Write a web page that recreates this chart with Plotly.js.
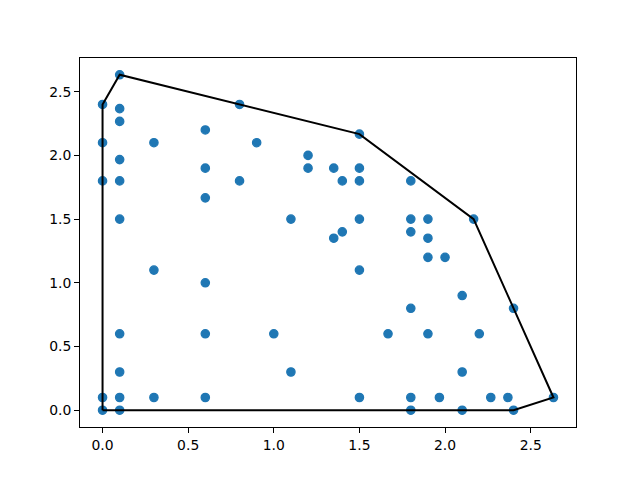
<!DOCTYPE html>
<html>
<head>
<meta charset="utf-8">
<script src="https://cdn.plot.ly/plotly-3.0.1.min.js"></script>
<style>
  html, body { margin: 0; padding: 0; background: #ffffff; }
  #chart { width: 640px; height: 480px; }
</style>
</head>
<body>
<div id="chart"></div>
<script>
// Scatter points
const pointsX = [
    0, 0, 0, 0, 0,
    0.1, 0.1, 0.1, 0.1, 0.1, 0.1, 0.1, 0.1, 0.1, 0.1,
    0.3, 0.3, 0.3,
    0.6, 0.6, 0.6, 0.6, 0.6, 0.6,
    0.8, 0.8, 0.9, 1.0, 1.1, 1.1, 1.2, 1.2,
    1.35, 1.35, 1.4, 1.4,
    1.5, 1.5, 1.5, 1.5, 1.5, 1.5,
    1.667,
    1.8, 1.8, 1.8, 1.8, 1.8, 1.8,
    1.9, 1.9, 1.9, 1.9, 1.967, 2.0,
    2.1, 2.1, 2.1, 2.167, 2.2, 2.267, 2.367, 2.4, 2.4, 2.633
];
const pointsY = [
    2.4, 2.1, 1.8, 0.1, 0,
    2.633, 2.367, 2.267, 1.967, 1.8, 1.5, 0.6, 0.3, 0.1, 0,
    2.1, 1.1, 0.1,
    2.2, 1.9, 1.667, 1.0, 0.6, 0.1,
    2.4, 1.8, 2.1, 0.6, 1.5, 0.3, 2.0, 1.9,
    1.9, 1.35, 1.8, 1.4,
    2.167, 1.9, 1.8, 1.5, 1.1, 0.1,
    0.6,
    1.8, 1.5, 1.4, 0.8, 0.1, 0,
    1.5, 1.35, 1.2, 0.6, 0.1, 1.2,
    0.9, 0.3, 0, 1.5, 0.6, 0.1, 0.1, 0.8, 0, 0.1
];

// Convex hull vertices (closed)
const hullX = [0, 2.4, 2.633, 2.167, 1.5, 0.1, 0, 0];
const hullY = [0, 0, 0.1, 1.5, 2.167, 2.633, 2.4, 0];

const tickVals = [0, 0.5, 1.0, 1.5, 2.0, 2.5];

function padRange(vals) {
    const lo = Math.min(...vals), hi = Math.max(...vals);
    const pad = (hi - lo) * 0.05;
    return [lo - pad, hi + pad];
}

const data = [
    {
        x: pointsX,
        y: pointsY,
        type: 'scatter',
        mode: 'markers',
        marker: { color: '#1f77b4', size: 8.3, line: { color: '#1f77b4', width: 1.3 } },
        hoverinfo: 'x+y'
    },
    {
        x: hullX,
        y: hullY,
        type: 'scatter',
        mode: 'lines',
        line: { color: '#000000', width: 2 },
        hoverinfo: 'skip'
    }
];

const axisCommon = {
    showgrid: false,
    zeroline: false,
    showline: true,
    mirror: true,
    linecolor: '#000000',
    linewidth: 1,
    ticks: 'outside',
    ticklen: 5,
    tickwidth: 1,
    tickcolor: '#000000',
    tickvals: tickVals,
    tickformat: '.1f',
    tickfont: { family: 'DejaVu Sans, sans-serif', size: 13.9, color: '#000000' }
};

const layout = {
    width: 640,
    height: 480,
    showlegend: false,
    margin: { l: 80, r: 64, t: 58, b: 53, pad: 0 },
    paper_bgcolor: '#ffffff',
    plot_bgcolor: '#ffffff',
    xaxis: Object.assign({}, axisCommon, { range: padRange(pointsX) }),
    yaxis: Object.assign({}, axisCommon, { range: padRange(pointsY) })
};

Plotly.newPlot('chart', data, layout, { staticPlot: true });
</script>
</body>
</html>
